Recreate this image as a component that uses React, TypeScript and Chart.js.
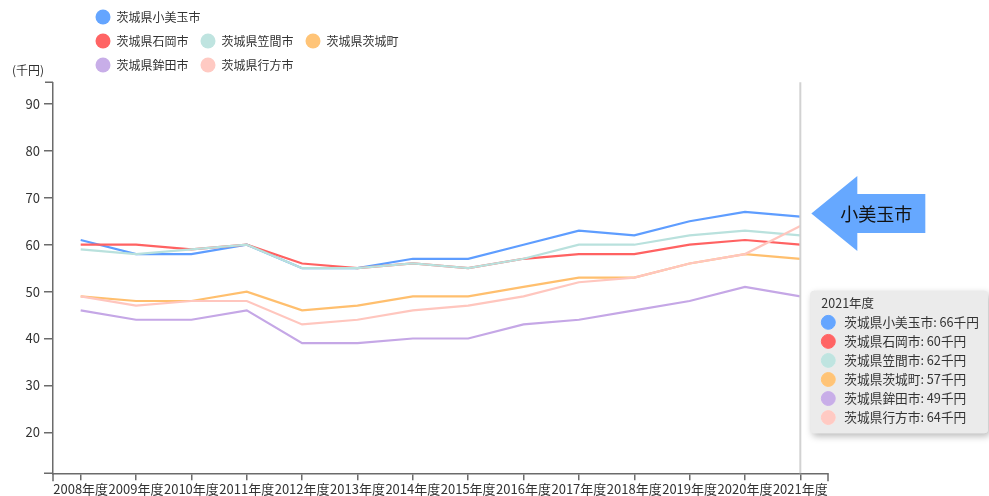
import React, { useEffect, useRef } from 'react';
import { Chart, registerables, Tooltip } from 'chart.js';

Chart.register(...registerables);

// ---- data ----
const categories = ['2008年度', '2009年度', '2010年度', '2011年度', '2012年度', '2013年度', '2014年度', '2015年度', '2016年度', '2017年度', '2018年度', '2019年度', '2020年度', '2021年度'];
const seriesNames = ['茨城県小美玉市', '茨城県石岡市', '茨城県笠間市', '茨城県茨城町', '茨城県鉾田市', '茨城県行方市'];
const omitama = [61, 58, 58, 60, 55, 55, 57, 57, 60, 63, 62, 65, 67, 66];
const ishioka = [60, 60, 59, 60, 56, 55, 56, 55, 57, 58, 58, 60, 61, 60];
const kasama = [59, 58, 59, 60, 55, 55, 56, 55, 57, 60, 60, 62, 63, 62];
const ibarakimachi = [49, 48, 48, 50, 46, 47, 49, 49, 51, 53, 53, 56, 58, 57];
const hokota = [46, 44, 44, 46, 39, 39, 40, 40, 43, 44, 46, 48, 51, 49];
const namegata = [49, 47, 48, 48, 43, 44, 46, 47, 49, 52, 53, 56, 58, 64];
const seriesValues = [omitama, ishioka, kasama, ibarakimachi, hokota, namegata];
const yTicks = [20, 30, 40, 50, 60, 70, 80, 90];
const yUnitLabel = '(千円)';
const valueUnit = '千円';
const highlightIndex = 13;
const arrowLabel = '小美玉市';
const legendRows = [[0], [1, 2, 3], [4, 5]];

// ---- styles ----
const lineColors = ['#5e9dff', '#ff6262', '#b9e1dd', '#ffbf6e', '#c5a7e6', '#ffc6be'];
const dotColors = ['#64a5ff', '#ff6464', '#bfe4e0', '#ffc477', '#c8aee8', '#ffcac3'];
const FONT = '"Noto Sans CJK JP", "Noto Sans", sans-serif';
const axisColor = '#6b6b6b';
const textColor = '#333333';

(Tooltip.positioners as any).fixedRight = function (items: any[]) {
  if (!items.length) return false;
  const chart = this.chart;
  const el = items[0].element;
  return { x: el.x + 10, y: chart.scales.y.getPixelForValue(35) };
};

const decorPlugin = {
  id: 'decor',
  afterDatasetsDraw(chart: any) {
    const { ctx, chartArea } = chart;
    const x = chart.scales.x.getPixelForValue(highlightIndex);
    ctx.save();
    ctx.strokeStyle = '#d2d2d2';
    ctx.lineWidth = 2;
    ctx.beginPath();
    ctx.moveTo(x, chartArea.top);
    ctx.lineTo(x, chartArea.bottom);
    ctx.stroke();
    ctx.restore();
  },
  afterDraw(chart: any) {
    const { ctx, chartArea } = chart;
    ctx.save();
    // outer ticks of axes
    ctx.strokeStyle = axisColor;
    ctx.lineWidth = 1.5;
    ctx.beginPath();
    ctx.moveTo(chartArea.left - 8, chartArea.top);
    ctx.lineTo(chartArea.left, chartArea.top);
    ctx.moveTo(chartArea.left - 9, chartArea.bottom);
    ctx.lineTo(chartArea.left, chartArea.bottom);
    ctx.moveTo(chartArea.left, chartArea.bottom);
    ctx.lineTo(chartArea.left, chartArea.bottom + 8);
    ctx.moveTo(chartArea.right, chartArea.bottom);
    ctx.lineTo(chartArea.right, chartArea.bottom + 8);
    ctx.stroke();

    // unit label
    ctx.fillStyle = textColor;
    ctx.font = `12px ${FONT}`;
    ctx.textBaseline = 'middle';
    ctx.textAlign = 'left';
    ctx.fillText(yUnitLabel, 12, 70);

    // legend
    legendRows.forEach((row, r) => {
      row.forEach((di, c) => {
        const cx = 103 + c * 105;
        const cy = 17 + r * 24;
        ctx.fillStyle = dotColors[di];
        ctx.beginPath();
        ctx.arc(cx, cy, 7.5, 0, Math.PI * 2);
        ctx.fill();
        ctx.fillStyle = textColor;
        ctx.fillText(seriesNames[di], cx + 13.5, cy);
      });
    });

    // arrow annotation
    const pt = chart.getDatasetMeta(0).data[highlightIndex];
    const tx = pt.x + 11;
    const ty = pt.y - 3;
    ctx.fillStyle = '#66a8ff';
    ctx.beginPath();
    ctx.moveTo(tx, ty);
    ctx.lineTo(tx + 46, ty - 37.5);
    ctx.lineTo(tx + 46, ty - 19.5);
    ctx.lineTo(tx + 114, ty - 19.5);
    ctx.lineTo(tx + 114, ty + 19.5);
    ctx.lineTo(tx + 46, ty + 19.5);
    ctx.lineTo(tx + 46, ty + 37.5);
    ctx.closePath();
    ctx.fill();
    ctx.fillStyle = '#111';
    ctx.font = `18px ${FONT}`;
    ctx.textAlign = 'center';
    ctx.fillText(arrowLabel, tx + 65, ty + 1);
    ctx.restore();
  },
  beforeTooltipDraw(chart: any, args: any) {
    const tt = args.tooltip;
    if (!tt || tt.opacity === 0) return;
    const ctx = chart.ctx;
    ctx.save();
    ctx.shadowColor = 'rgba(0,0,0,0.28)';
    ctx.shadowBlur = 7;
    ctx.shadowOffsetX = 2;
    ctx.shadowOffsetY = 3;
    ctx.fillStyle = '#ebebeb';
    ctx.beginPath();
    (ctx as any).roundRect(tt.x, tt.y, tt.width, tt.height, 4);
    ctx.fill();
    ctx.restore();
  },
};

export default function App() {
  const ref = useRef<HTMLCanvasElement | null>(null);

  useEffect(() => {
    document.body.style.margin = '0';
    const canvas = ref.current!;
    const datasets = seriesValues.map((vals, i) => ({
      label: seriesNames[i],
      data: vals,
      borderColor: lineColors[i],
      backgroundColor: dotColors[i],
      borderWidth: 2.2,
      pointRadius: 0,
      pointHoverRadius: 0,
      pointHitRadius: 0,
      tension: 0,
      order: seriesValues.length - 1 - i,
    }));
    const chart = new Chart(canvas, {
      type: 'line',
      data: { labels: categories, datasets },
      plugins: [decorPlugin],
      options: {
        responsive: false,
        animation: false,
        devicePixelRatio: 1,
        events: [],
        layout: { padding: { top: 82.3, right: 161, left: 0, bottom: 0 } },
        font: { family: FONT },
        plugins: {
          legend: { display: false },
          tooltip: {
            enabled: true,
            position: 'fixedRight' as any,
            xAlign: 'left',
            yAlign: 'center',
            caretSize: 0,
            caretPadding: 0,
            cornerRadius: 4,
            backgroundColor: '#ebebeb',
            titleColor: textColor,
            bodyColor: textColor,
            titleFont: { family: FONT, size: 12.5, weight: 'normal' },
            bodyFont: { family: FONT, size: 12.7 },
            titleMarginBottom: 4,
            bodySpacing: 3.8,
            padding: { top: 5, bottom: 8, left: 11, right: 9 } as any,
            boxWidth: 14,
            boxHeight: 14,
            boxPadding: 7,
            usePointStyle: true,
            displayColors: true,
            itemSort: (a: any, b: any) => a.datasetIndex - b.datasetIndex,
            callbacks: {
              title: (items: any[]) => (items.length ? String(items[0].label) : ''),
              label: (item: any) => `${item.dataset.label}: ${item.raw}${valueUnit}`,
              labelColor: (item: any) => ({
                borderColor: dotColors[item.datasetIndex],
                backgroundColor: dotColors[item.datasetIndex],
                borderWidth: 0,
              }),
              labelPointStyle: () => ({ pointStyle: 'circle', rotation: 0 }),
            },
          },
        },
        scales: {
          x: {
            type: 'category',
            offset: true,
            afterFit: (s: any) => { s.height = 22.7; },
            border: { display: true, color: axisColor, width: 1.5 },
            grid: { display: true, drawOnChartArea: false, drawTicks: true, tickLength: 7, color: axisColor, lineWidth: 1.5, offset: false },
            ticks: { autoSkip: false, maxRotation: 0, minRotation: 0, padding: 1, color: textColor, font: { family: FONT, size: 13 } },
          },
          y: {
            type: 'linear',
            min: 11.26,
            max: 94.63,
            afterFit: (s: any) => { s.width = 53; },
            afterBuildTicks: (s: any) => { s.ticks = yTicks.map((v) => ({ value: v })); },
            border: { display: true, color: axisColor, width: 1.5 },
            grid: { display: true, drawOnChartArea: false, drawTicks: true, tickLength: 9, color: axisColor, lineWidth: 1.5 },
            ticks: { padding: 4, color: textColor, font: { family: FONT, size: 13 } },
          },
        },
      } as any,
    });

    const el = chart.getDatasetMeta(0).data[highlightIndex] as any;
    chart.tooltip!.setActiveElements(
      datasets.map((_, i) => ({ datasetIndex: i, index: highlightIndex })),
      { x: el.x, y: el.y }
    );
    chart.update();

    return () => chart.destroy();
  }, []);

  return (
    <div style={{ width: 989, height: 496 }}>
      <canvas ref={ref} width={989} height={496} style={{ display: 'block' }} />
    </div>
  );
}
